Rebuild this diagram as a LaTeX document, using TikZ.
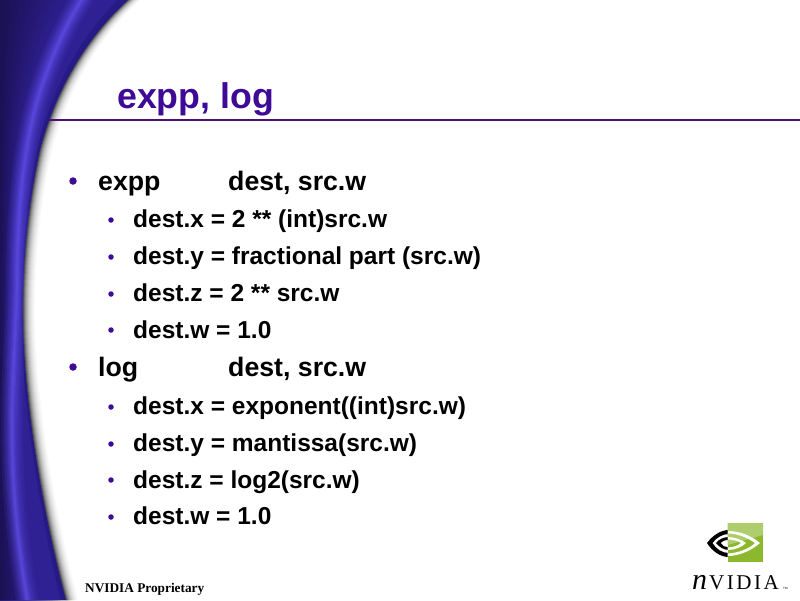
\documentclass[tikz,border=0pt]{standalone}
\usepackage{fontspec}
\setmainfont{Liberation Sans}
\newfontfamily\serifbold{Liberation Serif}
\definecolor{tcol}{HTML}{3F0A96}
\definecolor{bcol}{HTML}{3F0A96}
\definecolor{lcol}{HTML}{4B0F78}
\definecolor{dark}{HTML}{1B1155}
\definecolor{mid}{HTML}{2F2094}
\definecolor{hi}{HTML}{5F4CE6}
\definecolor{edgec}{HTML}{261A86}
\definecolor{logog}{HTML}{8CB82E}
\tikzset{
  lvla/.style={anchor=base west,inner sep=0,font=\fontsize{26.7}{26.7}\selectfont\bfseries,text=black},
  lvlb/.style={anchor=base west,inner sep=0,font=\fontsize{24.5}{24.5}\selectfont\bfseries,text=black},
  dota/.style={circle,fill=bcol,inner sep=0,minimum size=7.5pt},
  dotb/.style={circle,fill=bcol,inner sep=0,minimum size=5.5pt},
}
\newcommand{\edgepath}{(0,0) -- (128,0) .. controls (88,36) and (56,88) .. (40,150) .. controls (29,200) and (22,260) .. (23,320) .. controls (24,400) and (42,510) .. (66,600) -- (0,600) -- cycle}
\begin{document}
\begin{tikzpicture}[x=1pt,y=-1pt]
\useasboundingbox (0,0) rectangle (800,600);
\fill[white] (0,0) rectangle (800,600);
% shadow
\foreach \d/\g in {12/2,11/4,10/6,9/9,8/12,7/16,6/21,5/27,4/34,3/43,2/54,1/68}{
  \fill[black!\g,xshift=\d pt] \edgepath;
}
% curtain base
\begin{scope}
\clip \edgepath;
\fill[edgec] (0,0) rectangle (140,600);
\foreach \s [evaluate=\s as \m using {max(0,min(100,(\s-5)*1.8))}] in {92,88,...,4}{
  \fill[mid!\m!dark,xscale=\s/100] \edgepath;
}
% highlight streak
\foreach \w/\o in {22/.12,17/.14,13/.18,9/.22,6/.28,3.5/.35,1.8/.4}{
  \draw[hi,line width=\w pt,opacity=\o] (84,-4) .. controls (62,30) and (46,70) .. (36,105) .. controls (24,150) and (17,210) .. (17,290) .. controls (15,350) and (10,400) .. (13,470) .. controls (15,520) and (22,570) .. (28,604);
}
\end{scope}
% rule
\draw[lcol,line width=2.4pt] (49,120) coordinate (ruleL) -- (800,120) coordinate (ruleR);
% title
\node[anchor=base west,inner sep=0,font=\fontsize{35.7}{35.7}\selectfont\bfseries,text=tcol] (title) at (117,108) {expp, log};
% bullets
\node[dota] (d1) at (73,181) {};
\node[lvla] (t1) at (98,190) {expp};
\node[lvla] (t1b) at (228,190) {dest, src.w};
\node[dotb] (d2) at (111,220) {};
\node[lvlb] (t2) at (133,227) {dest.x = 2 ** (int)src.w};
\node[dotb] (d3) at (111,257) {};
\node[lvlb] (t3) at (133,264) {dest.y = fractional part (src.w)};
\node[dotb] (d4) at (111,294) {};
\node[lvlb] (t4) at (133,301) {dest.z = 2 ** src.w};
\node[dotb] (d5) at (111,330) {};
\node[lvlb] (t5) at (133,338) {dest.w = 1.0};
\node[dota] (d6) at (73,367) {};
\node[lvla] (t6) at (98,376) {log};
\node[lvla] (t6b) at (228,376) {dest, src.w};
\node[dotb] (d7) at (111,407) {};
\node[lvlb] (t7) at (133,414) {dest.x = exponent((int)src.w)};
\node[dotb] (d8) at (111,444) {};
\node[lvlb] (t8) at (133,451) {dest.y = mantissa(src.w)};
\node[dotb] (d9) at (111,480) {};
\node[lvlb] (t9) at (133,488) {dest.z = log2(src.w)};
\node[dotb] (d10) at (111,517) {};
\node[lvlb] (t10) at (133,524) {dest.w = 1.0};
% footer
\node[anchor=base west,inner sep=0,font=\serifbold\bfseries\fontsize{13.3}{13.3}\selectfont] (foot) at (85,592) {NVIDIA Proprietary};
% logo
\fill[logog] (727.5,523) rectangle (763,561.5);
\begin{scope}
\clip (727.5,523) rectangle (763,561.5);
\fill[logog!70!white] (727.5,523) -- (763,523) -- (763,535) -- (727.5,545) -- cycle;
\fill[white] (727.5,531) .. controls (740,531) and (752,536) .. (760,543) .. controls (752,550) and (740,556) .. (727.5,556) -- (727.5,553.5) .. controls (738,553) and (749,549) .. (755,543) .. controls (748,538) and (738,533.5) .. (727.5,533.5) -- cycle;
\fill[white] (727.5,537) .. controls (735,537) and (742,540) .. (746,543) .. controls (742,547) and (735,550) .. (727.5,550) -- (727.5,547.5) .. controls (733,547) and (738,546) .. (741,543) .. controls (738,541) and (733,539.5) .. (727.5,539.5) -- cycle;
\end{scope}
\begin{scope}
\clip (700,520) rectangle (727.5,565);
\fill[black] (707,543) .. controls (713,535) and (721,530) .. (729,530) -- (729,534) .. controls (722,534) and (716,538) .. (712.5,543) .. controls (716,549) and (722,553) .. (729,553) -- (729,557) .. controls (720,557) and (712,551) .. (707,543) -- cycle;
\fill[black] (716,543) .. controls (719,539) and (724,537) .. (729,537) -- (729,540) .. controls (725,540) and (722,541) .. (720.5,543) .. controls (722,546) and (725,547) .. (729,547) -- (729,550) .. controls (724,550) and (719,547) .. (716,543) -- cycle;
\end{scope}
\node[anchor=base west,inner sep=0,font=\serifbold\itshape\fontsize{30}{30}\selectfont] (logoN) at (692,589) {n};
\node[anchor=base west,inner sep=0,font=\serifbold\fontsize{21}{21}\selectfont] (logoT) at (709,589) {V\kern2.5pt I\kern2.5pt D\kern2.5pt I\kern2.5pt A};
\node[anchor=base west,inner sep=0,font=\fontsize{3}{3}\selectfont] (logoTM) at (783,589) {TM};
\end{tikzpicture}
\end{document}
